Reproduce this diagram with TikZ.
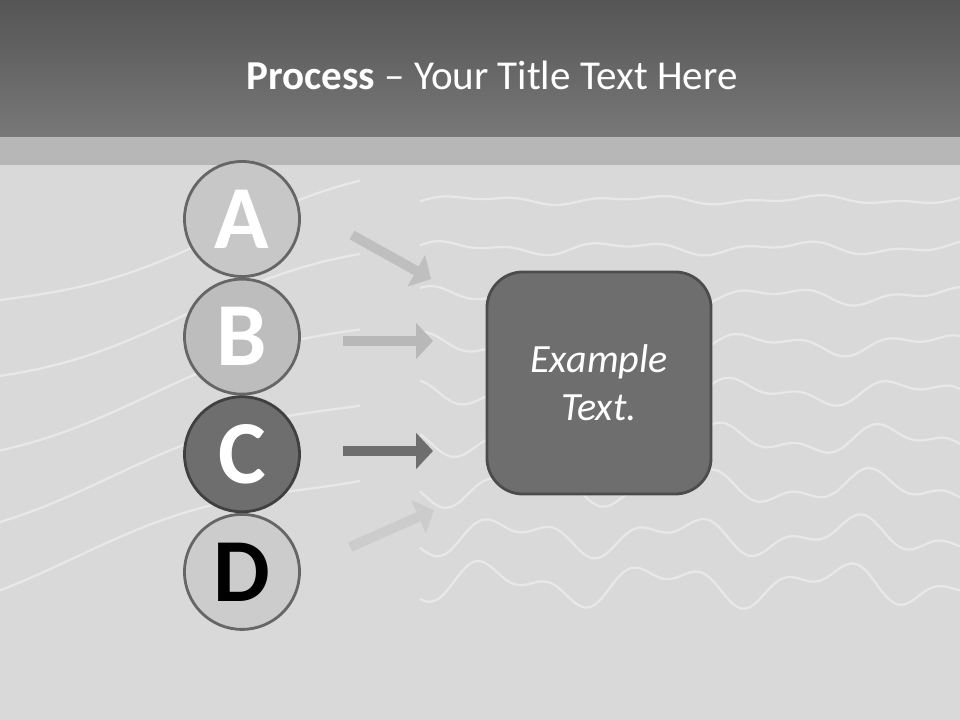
\documentclass[tikz,border=0pt]{standalone}
\usepackage{fontspec}
\setmainfont{Carlito}
\usepackage{tikz}
\usetikzlibrary{arrows.meta,positioning,shapes.geometric}
\definecolor{bgray}{HTML}{D9D9D9}
\definecolor{hdtop}{HTML}{555555}
\definecolor{hdbot}{HTML}{787878}
\definecolor{bandgray}{HTML}{B4B4B4}
\definecolor{rimgray}{HTML}{666666}
\definecolor{darkfill}{HTML}{6E6E6E}
\tikzset{%
	letter/.style   = {draw=rimgray, line width=2pt, circle, minimum size=2.875cm, inner sep=0pt, font=\fontsize{64}{64}\selectfont\bfseries}, % Step circle
	flow/.style     = {line width=7pt, -{Triangle[length=12pt,width=25pt]}}, % Block arrow
	panel/.style    = {draw=black!70, line width=2pt, fill=darkfill, rectangle, rounded corners=0.9cm, minimum width=5.6cm, minimum height=5.55cm, text=white, align=center, font=\fontsize{28.5}{34}\selectfont\itshape},
	wave/.style     = {white, opacity=0.4, line width=1.6pt},
}
\begin{document}
\begin{tikzpicture}[x=0.025cm,y=-0.025cm,node distance=2.94cm]
	\useasboundingbox (0,0) rectangle (960,720);
	% background and header
	\fill[bgray] (0,0) rectangle (960,720);
	\foreach \k in {0,...,8}
		\draw[wave] plot[smooth,domain=420:960,samples=70] (\x,{200+48*\k+(3+1.5*\k)*sin(\x*2.1+40*\k)+(2+\k)*sin(\x*4.7+25*\k)});
	\foreach \k in {0,...,4}
		\draw[wave] plot[smooth,domain=0:360,samples=30] (\x,{300+70*\k-0.3*\x+12*sin(\x*0.8+30*\k)});
	\shade[top color=hdtop, bottom color=hdbot] (0,0) rectangle (960,137);
	\fill[bandgray, opacity=0.9] (0,137) rectangle (960,165);
	\node[text=white, font=\fontsize{29.2}{30}\selectfont] (title) at (492,75) {\textbf{Process} -- Your Title Text Here};
	% steps
	\node[letter, fill=black!22, text=white] (A) at (242,219) {A};
	\node[letter, fill=black!26, text=white] (B) [below of=A] {B};
	\node[letter, fill=darkfill, draw=black!75, text=white] (C) [below of=B] {C};
	\node[letter, fill=black!20, text=black] (D) [below of=C] {D};
	% result box
	\node[panel] (E) at (599,383) {Example\\Text.};
	% arrows
	\coordinate (a1) at (352,235);
	\coordinate (a2) at (431,279);
	\coordinate (b1) at (343,341);
	\coordinate (b2) at (433,341);
	\coordinate (c1) at (343,451);
	\coordinate (c2) at (433,451);
	\coordinate (d1) at (350,547);
	\coordinate (d2) at (434,510);
	\draw[flow, black!25] (a1) -- (a2);
	\draw[flow, black!28] (b1) -- (b2);
	\draw[flow, darkfill] (c1) -- (c2);
	\draw[flow, black!20] (d1) -- (d2);
\end{tikzpicture}
\end{document}
